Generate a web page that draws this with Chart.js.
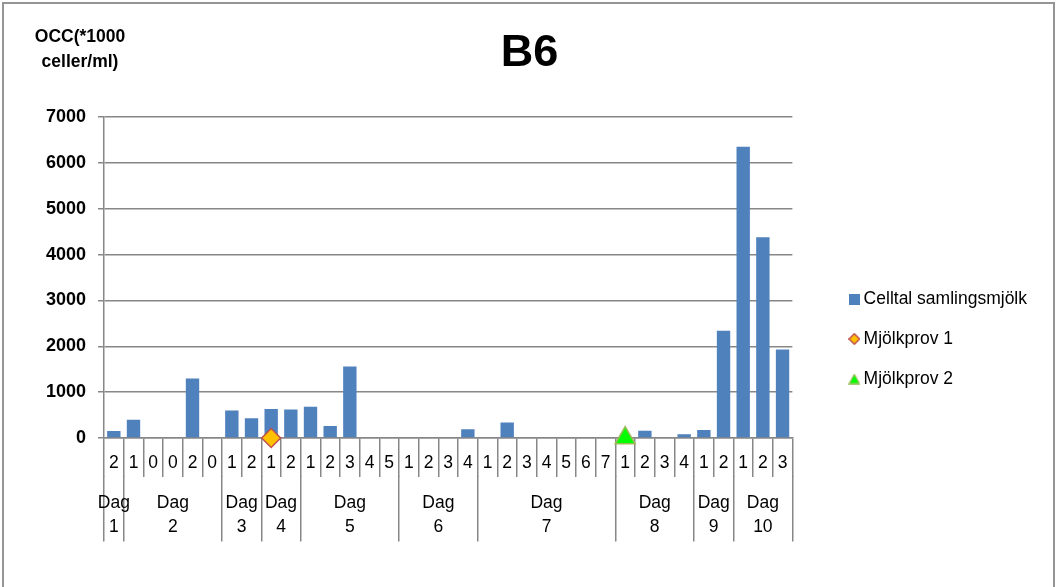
<!DOCTYPE html>
<html>
<head>
<meta charset="utf-8">
<script src="https://cdn.jsdelivr.net/npm/chart.js@4.4.1/dist/chart.umd.min.js"></script>
<style>
  html, body { margin: 0; padding: 0; background: #fff; overflow: hidden; }
  #frame { position: absolute; left: 2px; top: 2px; width: 1049px; height: 640px;
           border: 2px solid #959595; border-bottom: none; }
  #wrap { position: absolute; left: 0; top: 0; width: 1056px; height: 587px; }
</style>
</head>
<body>
<div id="frame"></div>
<div id="wrap"><canvas id="c" width="1056" height="587"></canvas></div>
<script>
const FONT = '"Liberation Sans", Arial, sans-serif';
const GRID = '#878787';

// sample number within each day (lower category row)
const sampleLabels = ['2', '1', '0', '0', '2', '0', '1', '2', '1', '2',
                      '1', '2', '3', '4', '5', '1', '2', '3', '4', '1',
                      '2', '3', '4', '5', '6', '7', '1', '2', '3', '4',
                      '1', '2', '1', '2', '3'];
// day groups (upper category row) and how many samples each spans
const dayNames = ['1', '2', '3', '4', '5', '6', '7', '8', '9', '10'];
const daySizes = [1, 5, 2, 2, 5, 4, 7, 4, 2, 3];

// bulk milk cell count, *1000 cells/ml
const cellCounts = [150, 400, null, null, 1300, null, 600, 430, 630, 620,
                    680, 260, 1560, null, null, null, null, null, 190, null,
                    340, null, null, null, null, null, null, 160, null, 80,
                    175, 2340, 6350, 4380, 1930];
// milk samples
const sample1 = [null, null, null, null, null, null, null, null, 0, null,
                 null, null, null, null, null, null, null, null, null, null,
                 null, null, null, null, null, null, null, null, null, null,
                 null, null, null, null, null];
const sample2 = [null, null, null, null, null, null, null, null, null, null,
                 null, null, null, null, null, null, null, null, null, null,
                 null, null, null, null, null, null, 0, null, null, null,
                 null, null, null, null, null];

const yTicks = [0, 1000, 2000, 3000, 4000, 5000, 6000, 7000];
const captionLines = ['OCC(*1000', 'celler/ml)'];

// day boundaries and day centres, in category-index units
const dayEdges = [-0.5];
const dayCentres = [];
let first = 0;
daySizes.forEach(n => {
  dayCentres.push(first + (n - 1) / 2);
  first += n;
  dayEdges.push(first - 0.5);
});

// small legend symbols
function icon(w, h, draw) {
  const cv = document.createElement('canvas');
  cv.width = w; cv.height = h;
  draw(cv.getContext('2d'));
  return cv;
}
const legendIcons = [
  icon(11, 11, g => { g.fillStyle = '#4F81BD'; g.fillRect(0, 0, 11, 11); }),
  icon(12, 12, g => {
    g.beginPath(); g.moveTo(6, 0.8); g.lineTo(11.2, 6); g.lineTo(6, 11.2); g.lineTo(0.8, 6); g.closePath();
    g.fillStyle = '#FFC000'; g.fill(); g.lineWidth = 1.5; g.strokeStyle = '#C0504D'; g.stroke();
  }),
  icon(12, 11, g => {
    g.beginPath(); g.moveTo(6, 0.8); g.lineTo(11.2, 10.2); g.lineTo(0.8, 10.2); g.closePath();
    g.fillStyle = '#00FF00'; g.fill(); g.lineWidth = 1.2; g.strokeStyle = '#9BBB59'; g.stroke();
  })
];

// unit caption above the value axis
const axisCaption = {
  id: 'axisCaption',
  afterDraw(chart) {
    const { ctx, chartArea } = chart;
    ctx.save();
    ctx.font = 'bold 17.5px ' + FONT;
    ctx.fillStyle = '#000';
    ctx.textAlign = 'center';
    ctx.textBaseline = 'middle';
    const x = chartArea.left - 24;
    captionLines.forEach((t, i) => ctx.fillText(t, x, chartArea.top - 80 + i * 25));
    ctx.restore();
  }
};

new Chart(document.getElementById('c'), {
  type: 'bar',
  data: {
    labels: sampleLabels,
    datasets: [
      {
        label: 'Celltal samlingsmjölk',
        data: cellCounts,
        backgroundColor: '#4F81BD',
        borderWidth: 0,
        categoryPercentage: 1,
        barPercentage: 0.68,
        order: 2,
        xAxisID: 'x', yAxisID: 'y'
      },
      {
        type: 'line',
        label: 'Mjölkprov 1',
        data: sample1,
        showLine: false,
        clip: false,
        pointStyle: 'rectRot',
        pointRadius: 9.5,
        pointBackgroundColor: '#FFC000',
        pointBorderColor: '#C0504D',
        pointBorderWidth: 1.5,
        order: 1,
        xAxisID: 'x', yAxisID: 'y'
      },
      {
        type: 'line',
        label: 'Mjölkprov 2',
        data: sample2,
        showLine: false,
        clip: false,
        pointStyle: 'triangle',
        pointRadius: 11.5,
        pointBackgroundColor: '#00FF00',
        pointBorderColor: '#9BBB59',
        pointBorderWidth: 1.5,
        order: 1,
        xAxisID: 'x', yAxisID: 'y'
      }
    ]
  },
  options: {
    responsive: false,
    animation: false,
    devicePixelRatio: 1,
    layout: { padding: { left: 22, right: 19, top: 0, bottom: 48 } },
    plugins: {
      title: {
        display: true,
        text: 'B6',
        color: '#000',
        font: { family: FONT, size: 45, weight: 'bold', lineHeight: 1.2 },
        padding: { top: 27, bottom: 36 }
      },
      legend: {
        position: 'right',
        align: 'center',
        maxWidth: 320,
        title: { display: true, text: '', padding: { top: 124.6, bottom: 0 }, font: { size: 12, lineHeight: 1.2 } },
        labels: {
          usePointStyle: true,
          boxWidth: 1,
          boxHeight: 17.5,
          padding: 22.5,
          color: '#000',
          font: { family: FONT, size: 17.5, lineHeight: 1.2 },
          sort: (a, b) => a.datasetIndex - b.datasetIndex,
          generateLabels(chart) {
            const items = Chart.defaults.plugins.legend.labels.generateLabels(chart);
            items.forEach(it => { it.pointStyle = legendIcons[it.datasetIndex]; });
            return items;
          }
        }
      },
      tooltip: { enabled: false }
    },
    scales: {
      x: {
        type: 'category',
        position: 'bottom',
        weight: 0,
        offset: true,
        afterFit: s => { s.height = 37.6; },
        grid: { offset: true, drawOnChartArea: false, drawTicks: true, tickLength: 39, color: GRID, lineWidth: 1.5 },
        border: { display: true, color: GRID, width: 1.5 },
        ticks: {
          autoSkip: false, maxRotation: 0, minRotation: 0, padding: -24.5,
          color: '#000', font: { family: FONT, size: 17.5, lineHeight: 1.2 }
        }
      },
      xDay: {
        type: 'linear',
        position: 'bottom',
        weight: 1,
        offset: false,
        min: -0.5,
        max: sampleLabels.length - 0.5,
        afterFit: s => { s.height = 63.4; },
        afterBuildTicks: s => {
          s.ticks = dayEdges.concat(dayCentres).sort((a, b) => a - b).map(v => ({ value: v }));
        },
        grid: {
          offset: false, drawOnChartArea: false, drawTicks: true, tickLength: 66, lineWidth: 1.5,
          color: c => (c.tick && dayEdges.includes(c.tick.value)) ? GRID : 'rgba(0,0,0,0)'
        },
        border: { display: false },
        ticks: {
          autoSkip: false, maxRotation: 0, minRotation: 0, padding: -50.6,
          color: '#000', font: { family: FONT, size: 17.5, lineHeight: 24 / 17.5 },
          callback: v => {
            const k = dayCentres.indexOf(v);
            return k >= 0 ? ['Dag', dayNames[k]] : '';
          }
        }
      },
      y: {
        type: 'linear',
        position: 'left',
        min: 0,
        max: 7000,
        afterFit: s => { s.width = 82; },
        afterBuildTicks: s => { s.ticks = yTicks.map(v => ({ value: v })); },
        grid: { color: GRID, lineWidth: 1.5, tickLength: 6, drawTicks: true },
        border: { display: true, color: GRID, width: 1.5 },
        ticks: {
          padding: 12, color: '#000', font: { family: FONT, size: 18, weight: 'bold' },
          callback: v => String(v)
        }
      },
      yGap: {
        type: 'linear',
        position: 'right',
        display: true,
        grid: { display: false },
        border: { display: false },
        ticks: { display: false },
        afterFit: s => { s.width = 39; }
      }
    }
  },
  plugins: [axisCaption]
});
</script>
</body>
</html>
